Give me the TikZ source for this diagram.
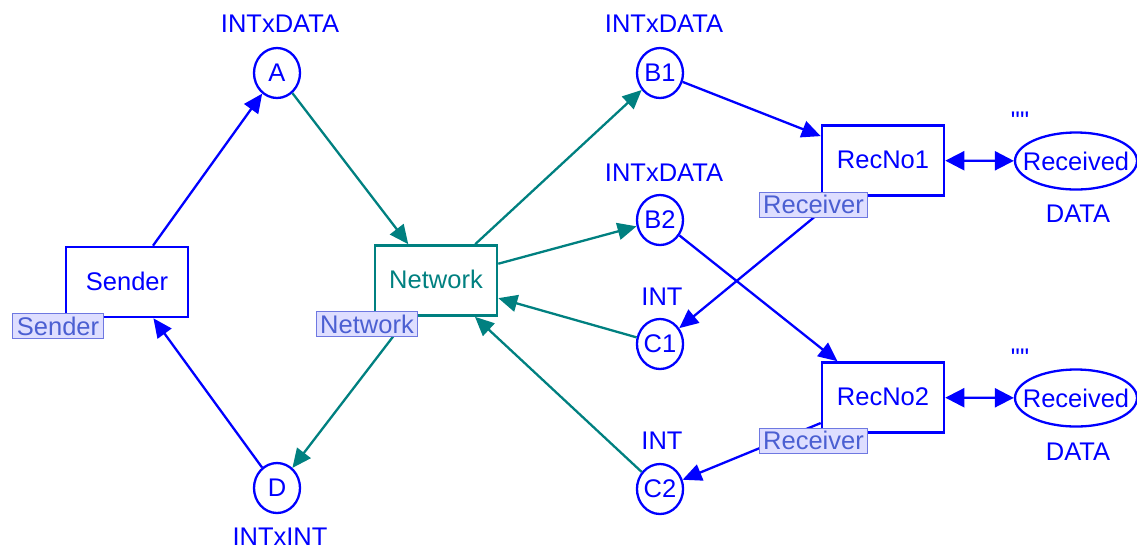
\documentclass[tikz,border=0pt]{standalone}
\usepackage{fontspec}
\setmainfont{Liberation Sans}
% same face without the TeX input mapping, so that " stays a straight quote
\newfontfamily\rawsans{Liberation Sans}
\usetikzlibrary{shapes.geometric,arrows.meta}
\definecolor{cpnblue}{RGB}{0,0,255}
\definecolor{cpnteal}{RGB}{0,128,128}
\definecolor{tagfill}{RGB}{222,222,255}
\definecolor{tagline}{RGB}{110,120,225}
\definecolor{tagtext}{RGB}{75,95,210}
\tikzset{
  place/.style={ellipse, draw=cpnblue, line width=2.3pt, text=cpnblue,
    inner sep=0pt, minimum width=46pt, minimum height=50pt},
  wideplace/.style={place, inner xsep=-11pt, minimum width=122pt, minimum height=57pt},
  trans/.style={rectangle, draw=#1, line width=2.6pt, text=#1,
    minimum width=122pt, minimum height=70pt},
  tag/.style={rectangle, fill=tagfill, draw=tagline, line width=1pt,
    text=tagtext, inner xsep=4pt, inner ysep=0pt, minimum height=25pt},
  inscr/.style={text=cpnblue, inner sep=0pt},
  arc/.style={line width=2.3pt, -{Triangle[length=19pt,width=17pt]}},
  biarc/.style={line width=2.3pt,
    {Triangle[length=19pt,width=19pt]}-{Triangle[length=19pt,width=19pt]}},
}
\begin{document}
\begin{tikzpicture}[x=1pt, y=-1pt, every node/.style={font=\fontsize{25.5}{30}\selectfont}]
\useasboundingbox (0,0) rectangle (1137,550);

% transitions
\node[trans=cpnblue] (sender) at (127,282) {\raisebox{2pt}{Sender}};
\node[trans=cpnteal] (network) at (436,280.5) {\raisebox{2pt}{Network}};
\node[trans=cpnblue] (rec1) at (883,160.5) {\raisebox{2pt}{RecNo1}};
\node[trans=cpnblue] (rec2) at (883,397.5) {\raisebox{2pt}{RecNo2}};

% places
\node[place] (A)  at (277,73)  {A};
\node[place] (D)  at (277,488) {D};
\node[place] (B1) at (660,73)  {B1};
\node[place] (B2) at (660,220) {B2};
\node[place] (C1) at (660,344) {C1};
\node[place] (C2) at (660,489) {C2};
\node[wideplace] (recv1) at (1076,161) {Received};
\node[wideplace] (recv2) at (1076,398) {Received};

% colour sets and initial markings
\node[inscr] (lA)  at (280,24)  {INTxDATA};
\node[inscr] (lD)  at (280,537) {INTxINT};
\node[inscr] (lB1) at (664,24)  {INTxDATA};
\node[inscr] (lB2) at (664,173) {INTxDATA};
\node[inscr] (lC1) at (662,297) {INT};
\node[inscr] (lC2) at (662,441) {INT};
\node[inscr, anchor=north] (m1)  at (1020,112) {\rawsans ""};
\node[inscr, anchor=north] (m2)  at (1020,349) {\rawsans ""};
\node[inscr] (t1)  at (1078,214) {DATA};
\node[inscr] (t2)  at (1078,452) {DATA};

% arcs of the sender
\draw[arc, cpnblue] (sender) -- (A);
\draw[arc, cpnblue] (D) -- (sender);

% arcs of the network
\draw[arc, cpnteal] (A) -- (network);
\draw[arc, cpnteal] (network) -- (B1);
\draw[arc, cpnteal] (network) -- (B2);
\draw[arc, cpnteal] (C1) -- (network);
\draw[arc, cpnteal] (C2) -- (network);
\draw[arc, cpnteal] (network) -- (D);

% arcs of the receivers
\draw[arc, cpnblue] (B1) -- (rec1);
\draw[arc, cpnblue] (rec1) -- (C1);
\draw[arc, cpnblue] (B2) -- (rec2);
\draw[arc, cpnblue] (rec2) -- (C2);
\draw[biarc, cpnblue] (rec1) -- (recv1);
\draw[biarc, cpnblue] (rec2) -- (recv2);

% substitution tags
\node[tag] (tsender)  at (58,326)    {Sender};
\node[tag] (tnetwork) at (367,324)   {Network};
\node[tag] (trec1)    at (813.5,204.5) {Receiver};
\node[tag] (trec2)    at (813.5,440.5) {Receiver};
\end{tikzpicture}
\end{document}
